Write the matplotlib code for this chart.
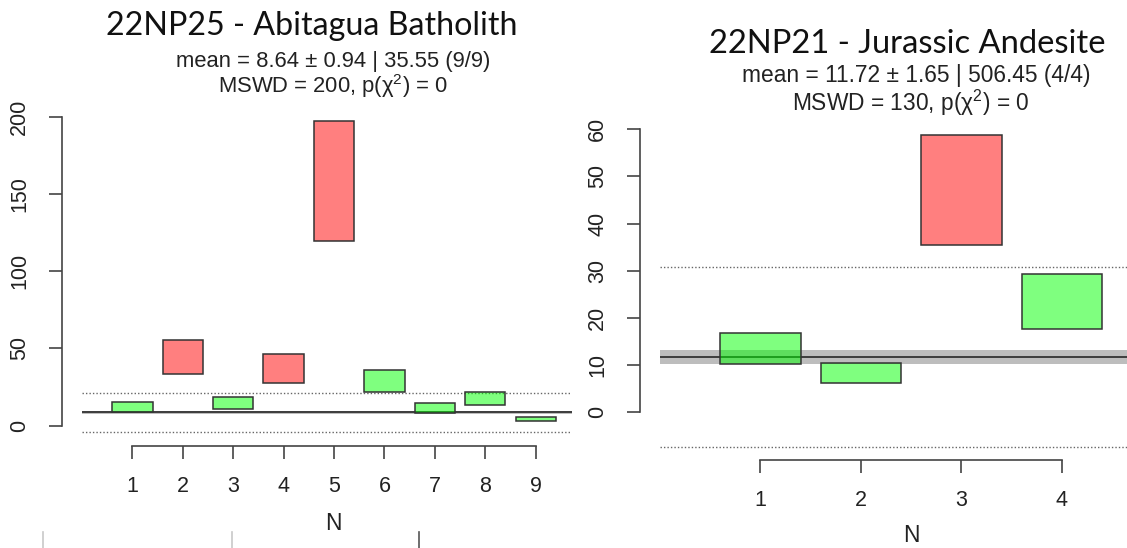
import matplotlib
matplotlib.use("Agg")
import matplotlib.pyplot as plt
from matplotlib.lines import Line2D

plt.rcParams['font.family'] = ['Liberation Sans', 'DejaVu Sans']
plt.rcParams['mathtext.fontset'] = 'custom'
plt.rcParams['mathtext.rm'] = 'Liberation Sans'

# ---- data ----
# left sample: 22NP25
n_left = [1, 2, 3, 4, 5, 6, 7, 8, 9]
lo_left = [8.6, 33.4, 11.0, 27.8, 119.5, 21.6, 8.4, 13.2, 3.2]
hi_left = [15.3, 55.7, 18.6, 46.4, 197.2, 35.8, 14.9, 21.6, 5.8]
out_left = [False, True, False, True, True, False, False, False, False]
mean_left, err_left = 8.64, 0.94
disp_left = [-4.3, 21.4]

# right sample: 22NP21
n_right = [1, 2, 3, 4]
lo_right = [10.2, 6.3, 35.5, 17.7]
hi_right = [16.9, 10.4, 58.7, 29.3]
out_right = [False, False, True, False]
mean_right, err_right = 11.72, 1.52
disp_right = [-7.4, 30.7]

W, H = 1127, 548
fig = plt.figure(figsize=(W / 100, H / 100), dpi=100)


def px_axes(x0, x1, ytop, ybot):
    # axes placed by pixel box
    return fig.add_axes([x0 / W, 1 - ybot / H, (x1 - x0) / W, (ybot - ytop) / H])


def wm_panel(ax, n, lo, hi, out, mean, err, disp, xlim, ylim, yticks):
    ax.set_xlim(*xlim)
    ax.set_ylim(*ylim)
    ax.axhspan(mean - err, mean + err, color='#bdbdbd', lw=0, zorder=1)
    ax.axhline(mean, color='#333333', lw=1.3, zorder=2)
    for d in disp:
        ax.axhline(d, color='#666666', lw=1.0, ls=(0, (1, 1.5)), zorder=2)
    cols = [(1, 0, 0, 0.5) if o else (0, 1, 0, 0.5) for o in out]
    ax.bar(n, [h - l for l, h in zip(lo, hi)], bottom=lo, width=0.8,
           color=cols, edgecolor='#333333', lw=1.1, zorder=3)
    for s in ['top', 'right']:
        ax.spines[s].set_visible(False)
    ax.spines['left'].set_position(('outward', 14.4))
    ax.spines['left'].set_bounds(yticks[0], yticks[-1])
    ax.spines['bottom'].set_bounds(n[0], n[-1])
    for s in ['left', 'bottom']:
        ax.spines[s].set_color('#444444')
        ax.spines[s].set_linewidth(1.2)
    ax.set_xticks(n)
    ax.set_yticks(yticks)
    ax.tick_params(axis='both', direction='out', length=9.4, width=1.2,
                   color='#444444', labelsize=15.5, labelcolor='#222222')
    ax.tick_params(axis='x', pad=12.5)
    ax.tick_params(axis='y', pad=13.5, labelrotation=90)
    for t in ax.get_yticklabels():
        t.set_va('center')
    ax.patch.set_alpha(0)


# left panel
axL = px_axes(82, 572, 108.2, 445.7)
wm_panel(axL, n_left, lo_left, hi_left, out_left, mean_left, err_left,
         disp_left, (0, 9.72), (-12.94, 205.5), [0, 50, 100, 150, 200])

# right panel
axR = px_axes(660, 1127, 123.1, 459.5)
wm_panel(axR, n_right, lo_right, hi_right, out_right, mean_right, err_right,
         disp_right, (0, 4.648), (-10.0, 61.3), [0, 10, 20, 30, 40, 50, 60])

# axis titles
fig.text(333 / W, 1 - 523 / H, 'N', ha='center', va='center', fontsize=16.5, color='#222222')
fig.text(911 / W, 1 - 536 / H, 'N', ha='center', va='center', fontsize=16.5, color='#222222')

# stats lines
fig.text(333 / W, 1 - 61 / H, 'mean = 8.64 ± 0.94 | 35.55 (9/9)',
         ha='center', va='center', fontsize=15.8, color='#222222')
fig.text(333 / W, 1 - 86 / H, r'MSWD = 200, p(χ$^{2}$) = 0',
         ha='center', va='center', fontsize=15.8, color='#222222')
fig.text(916 / W, 1 - 76 / H, 'mean = 11.72 ± 1.65 | 506.45 (4/4)',
         ha='center', va='center', fontsize=16.4, color='#222222')
fig.text(911 / W, 1 - 103 / H, r'MSWD = 130, p(χ$^{2}$) = 0',
         ha='center', va='center', fontsize=16.4, color='#222222')

# sample titles
fig.text(312 / W, 1 - 26 / H, '22NP25 - Abitagua Batholith', ha='center', va='center',
         fontsize=23.2, family=['Lato', 'DejaVu Sans'], color='#111111')
fig.text(907 / W, 1 - 44 / H, '22NP21 - Jurassic Andesite', ha='center', va='center',
         fontsize=23.6, family=['Lato', 'DejaVu Sans'], color='#111111')

# bits of the page border visible at the bottom
for x, c in [(43, '#c8c8c8'), (232, '#c8c8c8'), (419, '#555555')]:
    fig.add_artist(Line2D([x / W, x / W], [0, 1 - 532 / H], transform=fig.transFigure,
                          color=c, lw=1.2))

fig.savefig('out.png', dpi=100)
